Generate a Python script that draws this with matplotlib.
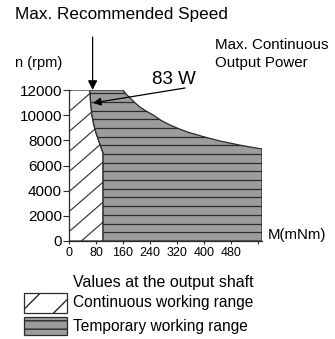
import numpy as np
import matplotlib
matplotlib.use("Agg")
import matplotlib.pyplot as plt
import matplotlib.patches as patches

plt.rcParams['font.family'] = ['Liberation Sans', 'DejaVu Sans']

# Continuous working range boundary (torque mNm, speed rpm), top to bottom
cont_torque = [62, 64, 68, 73, 80, 89, 98, 101, 101]
cont_speed = [12000, 11000, 10000, 9300, 8600, 7900, 7200, 7000, 0]

# Temporary working range upper boundary (torque mNm, speed rpm)
temp_torque = [160, 170, 181, 195, 210, 229, 249, 272, 299, 325, 350, 400, 447, 510, 572]
temp_speed = [12000, 11650, 11370, 11000, 10650, 10320, 10020, 9600, 9220, 8930, 8670, 8280, 7950, 7600, 7310]

x_ticks = [0, 80, 160, 240, 320, 400, 480, 560]
x_ticklabels = ['0', '80', '160', '240', '320', '400', '480', '']
y_ticks = [0, 2000, 4000, 6000, 8000, 10000, 12000]

speed_limit_torque = 70          # max recommended speed marker
power_point = (71, 10970)        # 83 W arrow tip
power_label_start = (344, 12160)

DARK = '#2b2b2b'
GRAY = '#9c9c9c'

fig = plt.figure(figsize=(3.35, 3.39), dpi=100)
ax = fig.add_axes([69 / 335, 1 - 241 / 339, 193 / 335, 151 / 339])
ax.set_xlim(0, 572)
ax.set_ylim(0, 12000)

# hatched continuous region
cont_xy = [(0, 0), (0, 12000)] + list(zip(cont_torque, cont_speed))
cont_poly = patches.Polygon(cont_xy, closed=True, facecolor='white',
                            edgecolor=DARK, lw=0.9, zorder=2)
ax.add_patch(cont_poly)

# diagonal hatch lines, clipped to the continuous region
slope = 23.3
xs = np.array([-50, 200])
for c in np.arange(-850, 14500, 1590):
    ln, = ax.plot(xs, c + slope * xs, color=DARK, lw=0.8, zorder=3)
    ln.set_clip_path(cont_poly)

# gray temporary region
temp_xy = (list(zip(cont_torque[::-1], cont_speed[::-1]))
           + list(zip(temp_torque, temp_speed))
           + [(temp_torque[-1], 0)])
temp_poly = patches.Polygon(temp_xy, closed=True, facecolor=GRAY,
                            edgecolor=DARK, lw=0.9, zorder=2)
ax.add_patch(temp_poly)
for y in np.arange(700, 12000, 690):
    ln, = ax.plot([0, 600], [y, y], color=DARK, lw=0.9, zorder=3)
    ln.set_clip_path(temp_poly)

ax.spines['top'].set_visible(False)
ax.spines['right'].set_visible(False)
for s in ('left', 'bottom'):
    ax.spines[s].set_linewidth(0.9)
    ax.spines[s].set_color(DARK)
    ax.spines[s].set_zorder(4)

ax.set_xticks(x_ticks)
ax.set_xticklabels(x_ticklabels)
ax.set_yticks(y_ticks)
ax.tick_params(axis='x', direction='inout', length=5, width=0.8,
               labelsize=9, pad=2, colors=DARK)
ax.tick_params(axis='y', direction='out', length=4, width=0.8,
               labelsize=11, pad=1, colors=DARK)
for lab in ax.get_xticklabels() + ax.get_yticklabels():
    lab.set_color('black')

# max recommended speed arrow
ax.annotate('', xy=(speed_limit_torque, 12000), xytext=(speed_limit_torque, 16200),
            arrowprops=dict(arrowstyle='-|>', color='black', lw=0.9,
                            mutation_scale=14, shrinkA=0, shrinkB=0),
            annotation_clip=False, zorder=6)

# 83 W pointer
ax.annotate('', xy=power_point, xytext=power_label_start,
            arrowprops=dict(arrowstyle='-|>', color='black', lw=0.9,
                            mutation_scale=12, shrinkA=0, shrinkB=0),
            annotation_clip=False, zorder=6)

fig.text(15 / 335, 1 - 15 / 339, 'Max. Recommended Speed', fontsize=12.3,
         ha='left', va='center')
fig.text(15 / 335, 1 - 63 / 339, 'n (rpm)', fontsize=10.5, ha='left', va='center')
fig.text(215 / 335, 1 - 45 / 339, 'Max. Continuous', fontsize=10.9,
         ha='left', va='center')
fig.text(215 / 335, 1 - 63 / 339, 'Output Power', fontsize=10.9,
         ha='left', va='center')
fig.text(152 / 335, 1 - 79 / 339, '83 W', fontsize=13.5, ha='left', va='center')
fig.text(268 / 335, 1 - 235 / 339, 'M(mNm)', fontsize=10.8, ha='left', va='center')
fig.text(73 / 335, 1 - 282 / 339, 'Values at the output shaft', fontsize=11.5,
         ha='left', va='center')

# legend
box1 = patches.Rectangle((24 / 335, 1 - 313 / 339), 43 / 335, 20 / 339,
                         transform=fig.transFigure, facecolor='white',
                         edgecolor=DARK, lw=0.9, hatch='/')
box2 = patches.Rectangle((24 / 335, 1 - 335 / 339), 43 / 335, 18 / 339,
                         transform=fig.transFigure, facecolor=GRAY,
                         edgecolor=DARK, lw=0.9, hatch='--')
fig.patches.extend([box1, box2])
fig.text(73 / 335, 1 - 303 / 339, 'Continuous working range', fontsize=11.2,
         ha='left', va='center')
fig.text(73 / 335, 1 - 326 / 339, 'Temporary working range', fontsize=11.2,
         ha='left', va='center')

fig.savefig('out.png', dpi=100, facecolor='white')
